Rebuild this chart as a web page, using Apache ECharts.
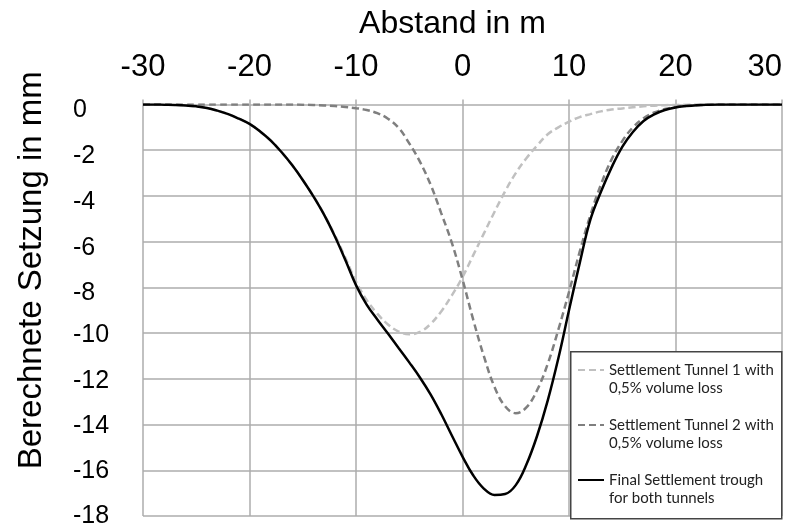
<!DOCTYPE html>
<html><head><meta charset="utf-8">
<script src="https://cdn.jsdelivr.net/npm/echarts@6/dist/echarts.min.js"></script>
<style>html,body{margin:0;padding:0;background:#fff}#c{width:789px;height:526px}</style>
</head><body><div id="c"></div>
<script>
const xs = [-30,-29,-28,-27,-26,-25,-24,-23,-22,-21,-20,-19,-18,-17,-16,-15,-14,-13,-12,-11,-10,-9,-8,-7,-6,-5,-4,-3,-2,-1,0,1,2,3,4,5,6,7,8,9,10,11,12,13,14,15,16,17,18,19,20,21,22,23,24,25,26,27,28,29,30];
const tunnel1 = [0,0,-0.01,-0.02,-0.04,-0.08,-0.15,-0.27,-0.42,-0.62,-0.85,-1.18,-1.58,-2.08,-2.65,-3.3,-4.0,-4.8,-5.7,-6.7,-7.75,-8.55,-9.15,-9.62,-9.93,-10.05,-9.95,-9.6,-9.05,-8.35,-7.55,-6.6,-5.65,-4.7,-3.8,-3.0,-2.35,-1.8,-1.3,-1.0,-0.75,-0.55,-0.42,-0.3,-0.22,-0.17,-0.12,-0.08,-0.05,-0.03,-0.02,-0.01,0,0,0,0,0,0,0,0,0];
const tunnel2 = [0,0,0,0,0,0,0,0,0,0,0,0,0,0,0,-0.01,-0.02,-0.04,-0.07,-0.11,-0.16,-0.24,-0.38,-0.62,-1.02,-1.7,-2.5,-3.5,-4.75,-6.05,-7.65,-9.4,-11.0,-12.35,-13.2,-13.5,-13.25,-12.5,-11.35,-9.85,-8.2,-6.45,-4.85,-3.5,-2.4,-1.6,-1.0,-0.6,-0.35,-0.2,-0.11,-0.06,-0.03,-0.01,0,0,0,0,0,0,0];
const finalTrough = [0,0,-0.01,-0.02,-0.04,-0.08,-0.15,-0.27,-0.42,-0.62,-0.85,-1.18,-1.58,-2.08,-2.65,-3.3,-4.02,-4.82,-5.75,-6.8,-7.9,-8.75,-9.4,-10.02,-10.65,-11.28,-11.94,-12.68,-13.54,-14.48,-15.4,-16.22,-16.8,-17.08,-17.04,-16.65,-15.75,-14.5,-12.95,-11.1,-9.0,-6.95,-5.05,-3.82,-2.75,-1.85,-1.2,-0.72,-0.43,-0.24,-0.13,-0.07,-0.03,-0.01,0,0,0,0,0,0,0];
const seriesNames = ['Settlement Tunnel 1 with\n0,5% volume loss','Settlement Tunnel 2 with\n0,5% volume loss','Final Settlement trough\nfor both tunnels'];
const xTitle = 'Abstand in m';
const yTitle = 'Berechnete Setzung in mm';

const pairs = arr => xs.map((x,i)=>[x,arr[i]]);
const chart = echarts.init(document.getElementById('c'));
const gridCol = '#adadad';
const lblFont = {fontFamily:'Liberation Sans, Arial',fontSize:25,color:'#000'};
chart.setOption({
  animation:false,
  grid:{left:143,right:7,top:104.5,bottom:10,containLabel:false,outerBoundsMode:'none'},
  xAxis:{type:'value',position:'top',min:-30,max:30,interval:10,
    name:xTitle,nameLocation:'middle',nameGap:64,
    nameTextStyle:{fontFamily:'Liberation Sans, Arial',fontSize:32,color:'#000',padding:[0,20,0,0]},
    axisLine:{show:false},
    axisTick:{show:true,length:5,lineStyle:{color:gridCol,width:1.5}},
    axisLabel:{fontFamily:'Liberation Sans, Arial',fontSize:31,color:'#000',margin:22,alignMaxLabel:'right'},
    splitLine:{show:true,lineStyle:{color:gridCol,width:1.5}}},
  yAxis:{type:'value',min:-18,max:0,interval:2,
    name:yTitle,nameLocation:'middle',nameGap:95,nameRotate:90,
    nameTextStyle:{fontFamily:'Liberation Sans, Arial',fontSize:33,color:'#000',padding:[0,0,0,80]},
    axisLine:{show:false},axisTick:{show:false},
    axisLabel:Object.assign({margin:70,align:'left',verticalAlign:'top',lineHeight:8,
      formatter: v => v >= -8 ? '{a|'+v+'}' : (v >= -14 ? '{b|'+v+'}' : '{c|'+v+'}'),
      rich:{a:Object.assign({lineHeight:12},lblFont),b:Object.assign({lineHeight:4},lblFont),c:Object.assign({lineHeight:1},lblFont)}},lblFont),
    splitLine:{show:true,lineStyle:{color:gridCol,width:1.5}}},
  graphic:[{type:'rect',left:570,top:351,z:3,shape:{width:211,height:167},style:{fill:'#fff',stroke:'#444',lineWidth:1.5}}],
  legend:{orient:'vertical',left:577,top:343,padding:0,itemGap:1,itemWidth:26,itemHeight:14,z:5,
    data:seriesNames,
    formatter: n => ' \n' + n,
    itemStyle:{opacity:0},
    lineStyle:{width:2},
    textStyle:{fontFamily:'Lato',fontSize:15,color:'#222',lineHeight:18}},
  series:[
    {name:seriesNames[0],type:'line',data:pairs(tunnel1),smooth:0.4,symbol:'none',z:2,
      lineStyle:{color:'#c0c0c0',width:2.5,type:[7,4]},itemStyle:{color:'#c0c0c0'}},
    {name:seriesNames[1],type:'line',data:pairs(tunnel2),smooth:0.4,symbol:'none',z:2,
      lineStyle:{color:'#7f7f7f',width:2.5,type:[7,4]},itemStyle:{color:'#7f7f7f'}},
    {name:seriesNames[2],type:'line',data:pairs(finalTrough),smooth:0.4,symbol:'none',z:2,
      lineStyle:{color:'#000',width:2.5},itemStyle:{color:'#000'}}
  ]
});
</script></body></html>
